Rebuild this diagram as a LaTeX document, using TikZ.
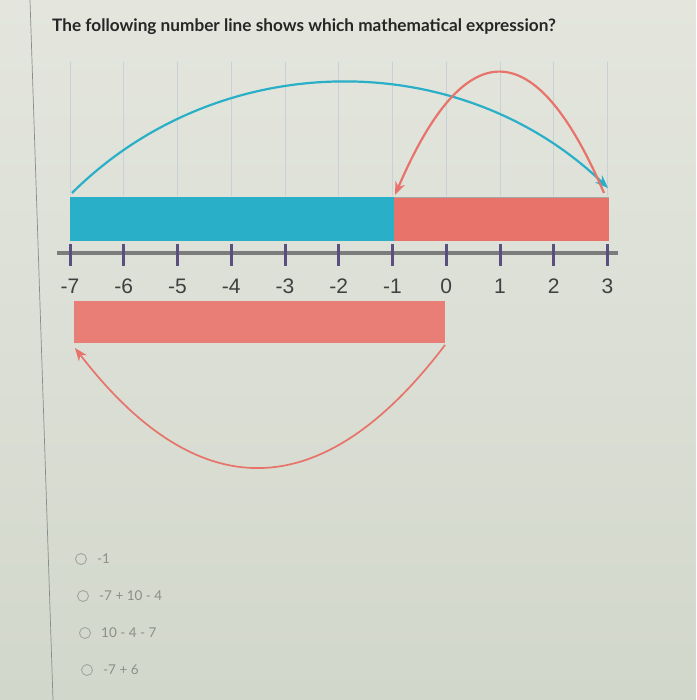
\documentclass[tikz,border=0pt]{standalone}
\usepackage{fontspec}
\setmainfont{Lato}
\newfontfamily\numfont{Liberation Sans}
\usetikzlibrary{arrows.meta}
\definecolor{bgtop}{HTML}{E4E6DE}
\definecolor{bgbot}{HTML}{D2D7CB}
\definecolor{nlblue}{HTML}{2AAFC8}
\definecolor{nlred}{HTML}{E7736B}
\definecolor{nlredlow}{HTML}{E97E77}
\definecolor{tickcol}{HTML}{5B4F80}
\definecolor{axiscol}{HTML}{7C7C7C}
\definecolor{gridcol}{HTML}{C9D1D8}
\definecolor{optcol}{HTML}{8C8E88}
\begin{document}
\begin{tikzpicture}[x=1pt,y=-1pt,
  arcline/.style={line width=2.2pt},
  tip/.style={-{Stealth[length=13pt,width=10pt]}},
  numlabel/.style={font=\numfont\fontsize{21}{21}\selectfont, text=black!75, anchor=base, inner sep=0pt},
  opttext/.style={font=\fontsize{13.5}{13.5}\selectfont, text=optcol, anchor=west, inner sep=0pt},
  optcirc/.style={draw=optcol!80, line width=0.9pt, circle, minimum size=11pt, inner sep=0pt},
  bar/.style={draw=none}]
\useasboundingbox (0,0) rectangle (696,700);
\shade[top color=bgtop, bottom color=bgbot] (0,0) rectangle (696,700);
% screen edge
\draw[black!45, line width=0.7pt] (30,0) -- (53,700);
% faint grid lines
\foreach \i in {0,...,10}{
  \draw[gridcol, line width=0.8pt] ({70+53.75*\i},62) -- ({70+53.75*\i},196);
}
% title
\node[anchor=base west, inner sep=0pt, font=\bfseries\fontsize{17.2}{17.2}\selectfont, text=black!85] (title) at (52,32) {The following number line shows which mathematical expression?};
% bars
\fill[nlblue] (70,197) rectangle (394,241);
\fill[nlred] (394,197) rectangle (609,241);
\draw[black!35, line width=0.6pt] (394,197) -- (609,197);
\fill[nlredlow] (74,301) rectangle (445,343);
% axis
\draw[axiscol, line width=3pt] (57,253) -- (618,253);
\foreach \v [count=\i from 0] in {-7,-6,-5,-4,-3,-2,-1,0,1,2,3}{
  \draw[tickcol, line width=3pt] ({70+53.75*\i},244) -- ({70+53.75*\i},266);
  \node[numlabel] (n\i) at ({70+53.75*\i},293) {\v};
}
% arc end points
\coordinate (m7) at (72,193);
\coordinate (p3) at (608,188);
\coordinate (p3r) at (604,193);
\coordinate (m1) at (395,195);
\coordinate (lowR) at (445,345);
\coordinate (lowL) at (75,348);
% blue arc -7 -> 3
\draw[nlblue, arcline, tip] (m7) .. controls (220,46) and (460,46) .. (p3);
% red arc 3 -> -1
\draw[nlred, arcline, tip] (p3r) .. controls (535,32) and (465,32) .. (m1);
% lower red arc
\draw[nlred, arcline, line width=1.7pt, tip] (lowR) .. controls (322,507) and (198,508) .. (lowL);
% options
\foreach \y/\t [count=\k] in {559/{-1}, 596/{-7 + 10 - 4}, 633/{10 - 4 - 7}, 670/{-7 + 6}}{
  \node[optcirc] (c\k) at ({79+2*\k},\y) {};
  \node[opttext] (o\k) at ({95+2*\k},\y) {\t};
}
\end{tikzpicture}
\end{document}
